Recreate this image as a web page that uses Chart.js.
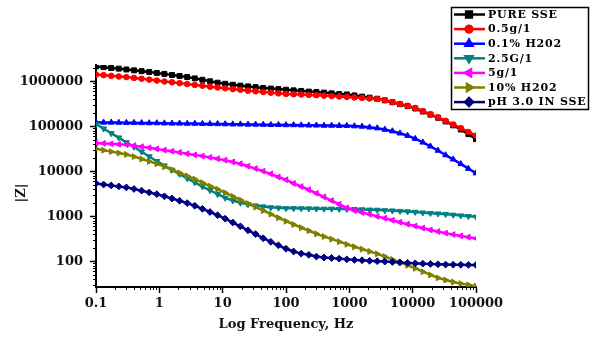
<!DOCTYPE html>
<html><head><meta charset="utf-8">
<script src="https://cdn.jsdelivr.net/npm/chart.js@4/dist/chart.umd.min.js"></script>
<style>html,body{margin:0;padding:0;background:#fff;}#wrap{width:592px;height:337px;position:relative;}</style>
</head><body><div id="wrap"><canvas id="c" width="592" height="337"></canvas></div>
<script>
// Frequencies (Hz)
const freqs = [0.1,0.1318,0.1738,0.2291,0.302,0.3981,0.5248,0.6918,0.912,1.202,1.585,2.089,2.754,3.631,4.786,6.31,8.318,10.96,14.45,19.05,25.12,33.11,43.65,57.54,75.86,100,131.8,173.8,229.1,302,398.1,524.8,691.8,912,1202,1585,2089,2754,3631,4786,6310,8318,10965,14454,19055,25119,33113,43652,57544,75858,100000];

const seriesNames = ['PURE SSE','0.5g/1','0.1% H202','2.5G/1','5g/1','10% H202','pH 3.0 IN SSE'];

const pureSSE = [2140000,2060000,1970000,1910000,1830000,1750000,1680000,1610000,1530000,1460000,1380000,1310000,1240000,1160000,1080000,1000000,930000,880000,840000,800000,770000,740000,710000,690000,670000,650000,630000,610000,590000,580000,560000,540000,520000,510000,485000,457000,433000,409000,378000,343000,310000,281000,249000,213000,182000,155000,128000,105000,85000,67000,52000];
const g05 = [1410000,1370000,1320000,1280000,1240000,1190000,1140000,1090000,1040000,990000,950000,910000,870000,830000,800000,760000,730000,700000,670000,650000,620000,600000,580000,560000,540000,525000,516000,508000,499000,491000,481000,470000,460000,450000,439000,427000,415000,404000,380000,346000,315000,286000,255000,218000,186000,158000,132000,110000,91000,75000,62000];
const h2o2_01 = [123000,122000,122000,121000,120000,120000,119000,118000,118000,117000,116000,116000,115000,115000,114000,113000,113000,112000,111000,111000,110000,110000,109000,108000,108000,107000,107000,106000,105000,105000,104000,104000,103000,103000,101000,99000,95000,91000,85000,78000,70000,62000,53000,44000,36000,29000,23000,18500,14600,11500,9100];
const g25 = [112000,89000,70000,56000,44000,35000,27300,21400,16800,13400,10800,8700,7000,5700,4600,3800,3100,2570,2250,2000,1850,1730,1650,1580,1550,1510,1510,1500,1490,1480,1470,1470,1460,1450,1440,1420,1400,1390,1360,1340,1310,1280,1250,1210,1180,1150,1120,1080,1040,1010,980];
const g5 = [42700,41700,40800,39900,39100,37200,35200,33300,31500,29600,27900,26300,24700,23200,21800,20400,19100,17700,16200,14700,13000,11500,10100,8800,7500,6500,5400,4600,3900,3250,2700,2240,1860,1540,1350,1220,1110,1000,910,820,740,670,610,550,500,460,425,395,368,345,324];
const h2o2_10 = [31600,29400,27400,25500,23700,21200,18800,16600,14700,12700,10800,9200,7900,6700,5600,4700,4000,3340,2780,2320,1930,1610,1340,1120,930,780,660,560,480,410,356,312,274,239,211,187,166,147,128,110,95,82,70,59,50,43,38.5,34.8,32.1,30.1,28.2];
const ph3 = [5400,5100,4860,4620,4400,4060,3720,3400,3110,2790,2490,2220,1970,1720,1470,1250,1060,890,730,600,490,404,327,272,228,191,166,149,140,128,122,119,115,111,108,106,103,101,99,97,95,92.5,90.8,89.1,87.7,86.3,85.1,84.5,84.1,83.6,83.2];

const xTicks = [0.1,1,10,100,1000,10000,100000];
const yTicks = [100,1000,10000,100000,1000000];
const xTitle = 'Log Frequency, Hz';
const yTitle = '|Z|';

const seriesValues = [pureSSE,g05,h2o2_01,g25,g5,h2o2_10,ph3];
const colors = ['#000000','#ff0000','#0000ff','#008080','#ff00ff','#808000','#000080'];
const styles = [
  {pointStyle:'rect',rotation:0,radius:3.5},
  {pointStyle:'circle',rotation:0,radius:2.8},
  {pointStyle:'triangle',rotation:0,radius:3.4},
  {pointStyle:'triangle',rotation:180,radius:3.4},
  {pointStyle:'triangle',rotation:270,radius:3.4},
  {pointStyle:'triangle',rotation:90,radius:3.4},
  {pointStyle:'rectRot',rotation:0,radius:3.4}
];

const datasets = seriesNames.map((name,k)=>({
  label:name,
  data: freqs.map((f,i)=>({x:f,y:seriesValues[k][i]})),
  borderColor:colors[k], backgroundColor:colors[k],
  pointBackgroundColor:colors[k], pointBorderColor:colors[k],
  pointStyle:styles[k].pointStyle, pointRotation:styles[k].rotation,
  pointRadius:styles[k].radius, pointBorderWidth:1,
  borderWidth:2.5, tension:0, order:6-k
}));

const font13 = {family:'"DejaVu Serif", "Liberation Serif", serif', size:13, weight:'bold'};

function drawMarker(ctx, st, x, y){
  if (Chart.helpers && Chart.helpers.drawPoint){
    Chart.helpers.drawPoint(ctx,{pointStyle:st.pointStyle,rotation:st.rotation,radius:st.radius+0.6,borderWidth:1},x,y);
  } else {
    ctx.beginPath(); ctx.arc(x,y,st.radius,0,Math.PI*2); ctx.fill();
  }
}

const extras = {
  id:'extras',
  afterDraw(chart){
    const ctx = chart.ctx;
    const xs = chart.scales.x, ys = chart.scales.y;
    ctx.save();
    // minor ticks
    ctx.strokeStyle = '#000'; ctx.lineWidth = 1;
    for (let e=-1;e<=6;e++){
      for (let m=2;m<=9;m++){
        const v = m*Math.pow(10,e);
        if (v>ys.min && v<ys.max){
          const py = Math.round(ys.getPixelForValue(v))+0.5;
          ctx.beginPath(); ctx.moveTo(ys.right-3,py); ctx.lineTo(ys.right,py); ctx.stroke();
        }
        if (v>xs.min && v<xs.max){
          const px = Math.round(xs.getPixelForValue(v))+0.5;
          ctx.beginPath(); ctx.moveTo(px,xs.top); ctx.lineTo(px,xs.top+3); ctx.stroke();
        }
      }
    }
    // y title
    ctx.save();
    ctx.translate(22,193); ctx.rotate(-Math.PI/2);
    ctx.font = 'bold 13px "DejaVu Serif", serif';
    ctx.fillStyle = '#111'; ctx.textAlign='center'; ctx.textBaseline='middle';
    ctx.fillText(yTitle,0,0);
    ctx.restore();
    // legend
    ctx.lineWidth = 1.5; ctx.strokeStyle='#000';
    ctx.strokeRect(451.5,7.5,137,102);
    ctx.font = 'bold 11px "DejaVu Serif", serif';
    try { ctx.letterSpacing = '0.8px'; } catch(e) {}
    ctx.textBaseline='middle'; ctx.textAlign='left';
    seriesNames.forEach((name,k)=>{
      const y = 14.5 + k*14.6;
      ctx.strokeStyle = colors[k]; ctx.fillStyle = colors[k]; ctx.lineWidth = 2.5;
      ctx.beginPath(); ctx.moveTo(454,y); ctx.lineTo(485,y); ctx.stroke();
      drawMarker(ctx, styles[k], 469, y);
      ctx.fillStyle = '#000';
      ctx.fillText(name, 488, y+0.5);
    });
    ctx.restore();
  }
};

new Chart(document.getElementById('c'),{
  type:'line',
  data:{datasets},
  options:{
    responsive:false, animation:false, devicePixelRatio:1,
    layout:{padding:{top:65,right:116,bottom:0,left:0}},
    plugins:{legend:{display:false},tooltip:{enabled:false}},
    scales:{
      x:{type:'logarithmic',min:0.1,max:100000,
        afterBuildTicks:(s)=>{s.ticks = xTicks.map(v=>({value:v}));},
        afterFit:(s)=>{s.height=50;},
        ticks:{callback:(v)=>String(v),font:font13,color:'#111',padding:3,maxRotation:0,autoSkip:false},
        grid:{display:true,drawOnChartArea:false,tickLength:6,color:'#000',tickWidth:1.5},
        border:{display:true,color:'#000',width:2},
        title:{display:true,text:xTitle,font:font13,color:'#111',padding:{top:0,bottom:5}}
      },
      y:{type:'logarithmic',min:27,max:2300000,
        afterBuildTicks:(s)=>{s.ticks = yTicks.map(v=>({value:v}));},
        afterFit:(s)=>{s.width=96;},
        ticks:{callback:(v)=>String(v),font:font13,color:'#111',padding:7,autoSkip:false},
        grid:{display:true,drawOnChartArea:false,tickLength:6,color:'#000',tickWidth:1.5},
        border:{display:true,color:'#000',width:2}
      }
    }
  },
  plugins:[extras]
});
</script></body></html>
